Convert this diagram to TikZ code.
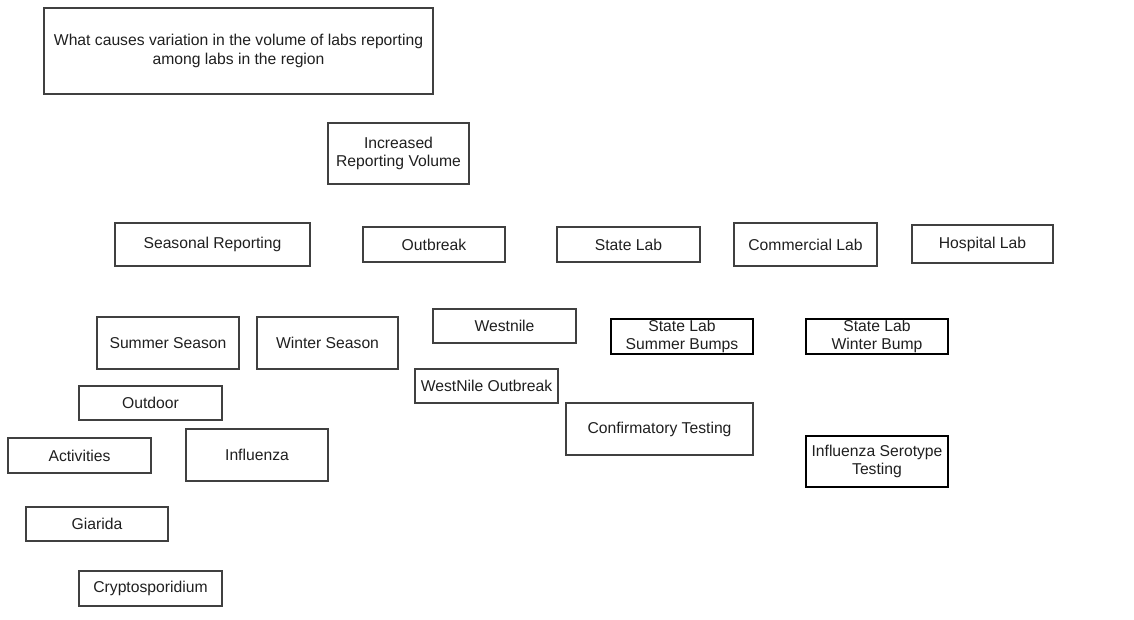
\documentclass[tikz,border=0pt]{standalone}
\usepackage{fontspec}
\setmainfont{Liberation Sans}
\begin{document}
\begin{tikzpicture}[x=1pt,y=1pt,
  box/.style={draw=black!75, line width=1.3pt, inner sep=0pt, align=center,
    font=\fontsize{15.7}{18.5}\selectfont, text=black!88},
  darkbox/.style={box, draw=black, line width=1.6pt}]
\useasboundingbox (0,0) rectangle (1134,-619);
% box given by its corners: left, top, right, bottom
\newcommand{\bx}[7][box]{%
  \node[#1, minimum width={#5-#3}, minimum height={#6-#4}]
    (#2) at ({(#3+#5)/2},{-(#4+#6)/2}) {#7};}
\bx{q}{44}{8}{433}{94}{What causes variation in the volume of labs reporting\\among labs in the region}
\bx{irv}{328}{123}{469}{184}{Increased\\Reporting Volume}
\bx{seas}{115}{223}{310}{266}{Seasonal Reporting}
\bx{outb}{363}{227}{505}{262}{Outbreak}
\bx{state}{557}{227}{700}{262}{State Lab}
\bx{comm}{734}{223}{877}{266}{Commercial Lab}
\bx{hosp}{912}{225}{1053}{263}{Hospital Lab}
\bx{summer}{97}{317}{239}{369}{Summer Season}
\bx{winter}{257}{317}{398}{369}{Winter Season}
\bx{westnile}{433}{309}{576}{343}{Westnile}
\bx[darkbox]{ssb}{611}{319}{753}{354}{State Lab\\Summer Bumps}
\bx[darkbox]{swb}{806}{319}{948}{354}{State Lab\\Winter Bump}
\bx{wno}{415}{369}{558}{403}{WestNile Outbreak}
\bx{outdoor}{79}{386}{222}{420}{Outdoor}
\bx{conf}{566}{403}{753}{455}{Confirmatory Testing}
\bx{activ}{8}{438}{151}{473}{Activities}
\bx{flu}{186}{429}{328}{481}{Influenza}
\bx[darkbox]{sero}{806}{436}{948}{487}{Influenza Serotype\\Testing}
\bx{giar}{26}{507}{168}{541}{Giarida}
\bx{crypto}{79}{571}{222}{606}{Cryptosporidium}
\end{tikzpicture}
\end{document}
